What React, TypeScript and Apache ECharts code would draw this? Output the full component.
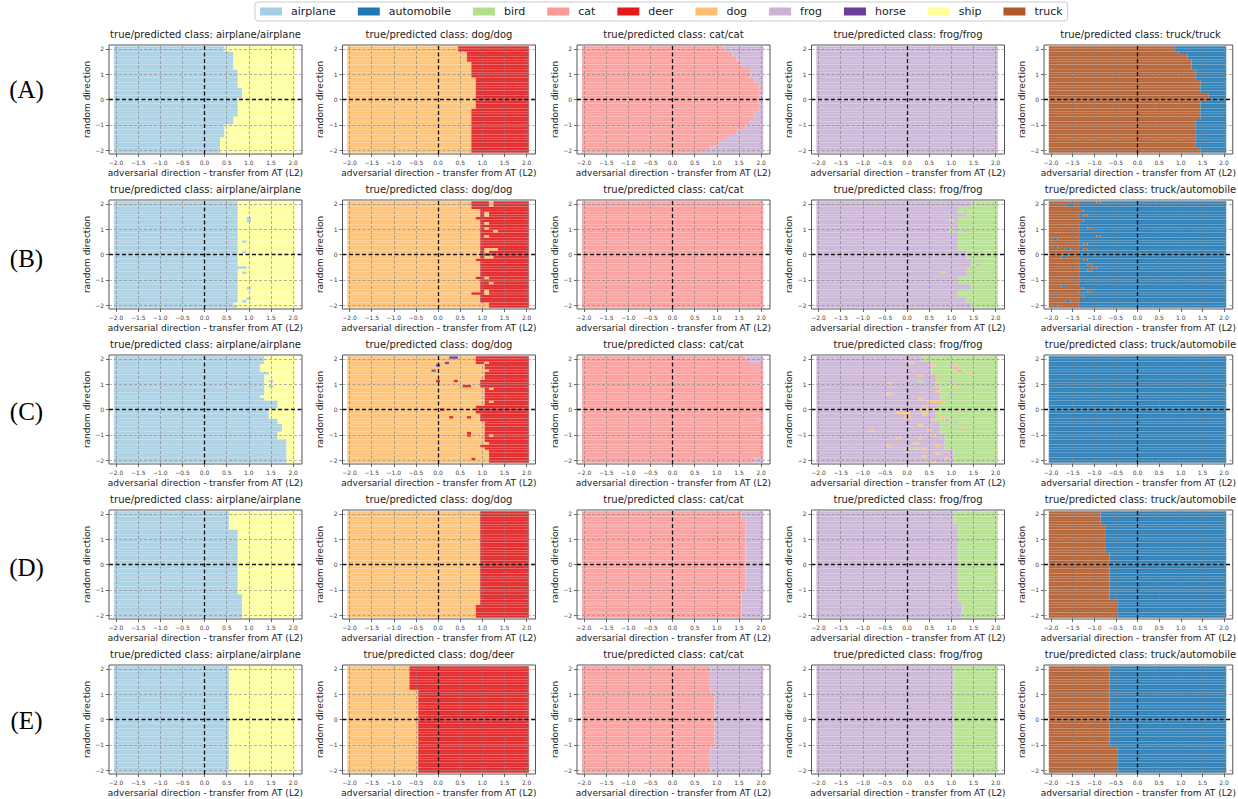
import React, { useEffect, useRef } from "react";
import * as echarts from "echarts";

const CLASSES = ["airplane", "automobile", "bird", "cat", "deer", "dog", "frog", "horse", "ship", "truck"];
const CLASS_COLORS = ["#a6cee3", "#1f78b4", "#b2df8a", "#fb9a99", "#e31a1c", "#fdbf6f", "#cab2d6", "#6a3d9a", "#ffff99", "#b15928"];
const ROW_LABELS = ["(A)", "(B)", "(C)", "(D)", "(E)"];
const X_TICKS = [-2, -1.5, -1, -0.5, 0, 0.5, 1, 1.5, 2];
const Y_TICKS = [-2, -1, 0, 1, 2];
const X_NAME = "adversarial direction - transfer from AT (L2)";
const Y_NAME = "random direction";

// sampling grid of the decision maps
const X_RANGE = [-2.05, 2.05];
const Y_RANGE = [-2.1, 2.1];
const N_X = 41;
const N_Y = 41;

// titles (true/predicted) per row
const TITLES_A = ["airplane/airplane", "dog/dog", "cat/cat", "frog/frog", "truck/truck"];
const TITLES_B = ["airplane/airplane", "dog/dog", "cat/cat", "frog/frog", "truck/automobile"];
const TITLES_C = ["airplane/airplane", "dog/dog", "cat/cat", "frog/frog", "truck/automobile"];
const TITLES_D = ["airplane/airplane", "dog/dog", "cat/cat", "frog/frog", "truck/automobile"];
const TITLES_E = ["airplane/airplane", "dog/deer", "cat/cat", "frog/frog", "truck/automobile"];

// [left-region class, right-region class] per panel
const PAIRS_A = [["airplane", "ship"], ["dog", "deer"], ["cat", "frog"], ["frog", "bird"], ["truck", "automobile"]];
const PAIRS_B = [["airplane", "ship"], ["dog", "deer"], ["cat", "frog"], ["frog", "bird"], ["truck", "automobile"]];
const PAIRS_C = [["airplane", "ship"], ["dog", "deer"], ["cat", "frog"], ["frog", "bird"], ["automobile", "automobile"]];
const PAIRS_D = [["airplane", "ship"], ["dog", "deer"], ["cat", "frog"], ["frog", "bird"], ["truck", "automobile"]];
const PAIRS_E = [["airplane", "ship"], ["dog", "deer"], ["cat", "frog"], ["frog", "bird"], ["truck", "automobile"]];

// boundary profiles: [y top, y bottom, x of boundary]
const A1_EDGES = [[2.1, 1.85, 0.47], [1.85, 1.2, 0.62], [1.2, 0.5, 0.75], [0.5, 0.1, 0.87], [0.1, -0.7, 0.75], [-0.7, -1.0, 0.62], [-1.0, -1.5, 0.47], [-1.5, -2.1, 0.34]];
const A2_EDGES = [[2.1, 1.85, 0.47], [1.85, 1.45, 0.62], [1.45, 0.92, 0.75], [0.92, -0.4, 0.88], [-0.4, -2.1, 0.75]];
const A3_EDGES = [[2.1, 1.9, 1.15], [1.9, 1.7, 1.3], [1.7, 1.5, 1.45], [1.5, 1.3, 1.58], [1.3, 1.1, 1.7], [1.1, 0.9, 1.78], [0.9, 0.7, 1.88], [0.7, 0.5, 1.95], [0.5, 0.4, 2.08], [0.4, -0.5, 1.98], [-0.5, -0.8, 1.88], [-0.8, -1.0, 1.78], [-1.0, -1.2, 1.65], [-1.2, -1.4, 1.45], [-1.4, -1.6, 1.25], [-1.6, -1.8, 1.05], [-1.8, -2.0, 0.85], [-2.0, -2.1, 0.65]];
const A4_EDGES: number[][] = [];
const A5_EDGES = [[2.1, 1.93, 0.85], [1.93, 1.8, 0.98], [1.8, 1.56, 1.12], [1.56, 1.16, 1.25], [1.16, 0.79, 1.38], [0.79, 0.21, 1.48], [0.21, -0.09, 1.62], [-0.09, -0.75, 1.48], [-0.75, -1.88, 1.38], [-1.88, -2.1, 1.48]];

const B1_EDGES = [[2.1, -0.45, 0.75], [-0.45, -0.6, 0.95], [-0.6, -2.1, 0.75]];
const B2_EDGES = [[2.1, 1.75, 0.78], [1.75, -1.85, 0.98], [-1.85, -2.1, 1.12]];
const B3_EDGES: number[][] = [];
const B4_EDGES = [[2.1, 1.9, 1.45], [1.9, 1.6, 1.15], [1.6, 1.5, 1.32], [1.5, 0.2, 1.15], [0.2, -0.15, 1.32], [-0.15, -0.5, 1.42], [-0.5, -0.9, 1.32], [-0.9, -1.2, 1.15], [-1.2, -1.35, 1.45], [-1.35, -1.7, 1.15], [-1.7, -1.9, 1.32], [-1.9, -2.1, 1.48]];
const B5_EDGES = [[2.1, -2.1, -1.38]];

const C1_EDGES = [[2.1, 1.8, 1.38], [1.8, 1.45, 1.28], [1.45, 1.35, 1.48], [1.35, 0.4, 1.38], [0.4, 0.0, 1.62], [0.0, -0.35, 1.42], [-0.35, -0.55, 1.62], [-0.55, -0.9, 1.75], [-0.9, -1.2, 1.62], [-1.2, -2.1, 1.85]];
const C2_EDGES = [[2.1, 1.8, 0.85], [1.8, 1.2, 1.02], [1.2, 0.9, 0.95], [0.9, 0.2, 1.05], [0.2, -0.2, 0.85], [-0.2, -0.6, 0.92], [-0.6, -1.0, 1.02], [-1.0, -1.6, 1.05], [-1.6, -2.1, 1.12]];
const C3_EDGES = [[2.1, 1.95, 1.65], [1.95, 1.8, 1.78]];
const C4_EDGES = [[2.1, 1.9, 0.35], [1.9, 1.4, 0.5], [1.4, 0.9, 0.62], [0.9, 0.2, 0.72], [0.2, -0.5, 0.62], [-0.5, -1.0, 0.75], [-1.0, -1.6, 0.85], [-1.6, -2.1, 1.02]];
const C5_EDGES: number[][] = [];

const D1_EDGES = [[2.1, 1.35, 0.58], [1.35, -1.15, 0.72], [-1.15, -2.1, 0.85]];
const D2_EDGES = [[2.1, -1.6, 0.98], [-1.6, -2.1, 0.85]];
const D3_EDGES = [[2.1, 1.75, 1.52], [1.75, -1.05, 1.65], [-1.05, -2.1, 1.52]];
const D4_EDGES = [[2.1, 1.6, 1.02], [1.6, -1.45, 1.15], [-1.45, -2.1, 1.28]];
const D5_EDGES = [[2.1, 1.6, -0.85], [1.6, 0.45, -0.72], [0.45, -1.35, -0.62], [-1.35, -2.1, -0.48]];

const E1_EDGES = [[2.1, -2.1, 0.58]];
const E2_EDGES = [[2.1, 1.2, -0.62], [1.2, -2.1, -0.48]];
const E3_EDGES = [[2.1, 1.1, 0.85], [1.1, -1.1, 0.98], [-1.1, -2.1, 0.85]];
const E4_EDGES = [[2.1, -2.1, 1.02]];
const E5_EDGES = [[2.1, -1.1, -0.62], [-1.1, -2.1, -0.48]];

// isolated cells: [x, y, class]
const NO_SPOTS: any[] = [];
const B1_SPOTS = [[0.95, 1.45, "airplane"], [0.95, 1.35, "airplane"], [0.85, 0.55, "airplane"], [0.85, 0.1, "airplane"], [0.9, -0.75, "airplane"], [0.95, -1.35, "airplane"], [0.95, -1.75, "airplane"], [0.85, -1.85, "airplane"], [0.7, -1.95, "ship"]];
const B2_SPOTS = [[1.2, 2.05, "dog"], [1.2, 1.95, "dog"], [1.1, 1.65, "dog"], [1.05, 1.55, "dog"], [1.05, 1.25, "dog"], [1.1, 1.0, "dog"], [1.25, 0.95, "dog"], [1.05, 0.75, "dog"], [1.1, 0.25, "dog"], [1.2, 0.2, "dog"], [1.3, 0.2, "dog"], [1.05, 0.15, "dog"], [1.1, -0.1, "dog"], [1.2, -0.15, "dog"], [1.05, -0.95, "dog"], [1.15, -1.1, "dog"], [1.05, -1.45, "dog"], [1.05, -1.55, "dog"], [0.85, 1.4, "deer"], [0.85, -0.2, "deer"], [0.9, -0.9, "deer"], [0.9, -1.55, "deer"], [0.8, -1.55, "deer"]];
const B4_SPOTS = [[0.95, 1.3, "bird"], [0.95, 1.05, "bird"], [0.95, 0.95, "bird"], [0.8, -0.7, "bird"], [1.3, 1.75, "frog"], [1.3, 0.9, "frog"], [1.55, -0.4, "frog"], [1.3, -0.45, "frog"]];
const B5_SPOTS = [[-1.85, 0.6, "automobile"], [-1.85, 0.3, "automobile"], [-1.6, 0.25, "automobile"], [-1.7, -0.15, "automobile"], [-1.55, 0.0, "automobile"], [-1.7, -1.2, "automobile"], [-1.9, -1.65, "automobile"], [-1.9, -2.05, "automobile"], [-1.6, 1.95, "automobile"], [-1.55, -1.8, "automobile"], [-1.5, 1.9, "automobile"], [-1.25, 1.7, "truck"], [-1.2, 1.55, "truck"], [-1.3, 1.35, "truck"], [-1.1, 1.0, "truck"], [-0.95, 0.7, "truck"], [-1.2, 0.4, "truck"], [-1.2, 0.2, "truck"], [-1.2, -0.2, "truck"], [-1.1, -0.45, "truck"], [-1.0, -0.55, "truck"], [-1.05, -0.6, "truck"], [-1.3, -1.35, "truck"], [-1.1, -1.4, "truck"], [-1.25, -1.65, "truck"], [-0.9, 2.0, "truck"]];
const C1_SPOTS = [[1.35, 0.8, "ship"], [1.3, 0.55, "ship"], [1.35, 0.45, "ship"], [1.45, 1.15, "airplane"], [1.45, 0.95, "airplane"]];
const C2_SPOTS = [[0.3, 2.05, "horse"], [0.4, 2.05, "horse"], [0.15, 1.85, "horse"], [0.0, 1.75, "horse"], [-0.15, 1.5, "horse"], [0.0, 1.15, "deer"], [0.4, 1.1, "deer"], [0.55, 0.9, "deer"], [0.65, 0.9, "deer"], [0.1, 0.05, "deer"], [0.25, -0.3, "deer"], [0.65, -0.3, "deer"], [0.65, -0.9, "deer"], [0.65, -1.0, "deer"], [0.95, -1.4, "deer"], [0.8, -1.95, "deer"], [1.05, 1.85, "dog"], [1.1, 1.5, "dog"], [1.15, 0.8, "dog"], [1.2, 0.3, "dog"], [1.0, -0.55, "dog"], [1.15, -1.05, "dog"], [1.1, -1.3, "dog"]];
const C3_SPOTS = [[2.0, 1.6, "frog"], [2.0, 1.0, "frog"], [1.95, -0.4, "frog"], [1.85, -1.9, "frog"], [1.95, -1.9, "frog"], [2.0, -1.9, "frog"], [1.9, -2.0, "frog"], [2.0, -2.0, "frog"]];
const C4_SPOTS = [[0.1, 1.85, "dog"], [0.55, 1.7, "dog"], [1.05, 1.7, "dog"], [1.05, 1.55, "dog"], [1.4, 1.45, "dog"], [0.25, 1.3, "dog"], [0.65, 1.3, "dog"], [-0.4, 1.05, "dog"], [0.65, 1.05, "dog"], [1.05, 0.9, "dog"], [-0.4, 0.65, "dog"], [0.65, 0.7, "dog"], [0.25, 0.45, "dog"], [0.45, 0.3, "dog"], [0.55, 0.35, "dog"], [0.8, 0.3, "dog"], [0.7, 0.35, "dog"], [-0.25, -0.1, "dog"], [-0.15, -0.1, "dog"], [0.0, -0.1, "dog"], [0.0, -0.2, "dog"], [0.0, -0.35, "dog"], [0.25, -0.05, "dog"], [0.4, -0.25, "dog"], [0.55, -0.45, "dog"], [0.7, -0.15, "dog"], [0.8, -0.35, "dog"], [1.2, 0.05, "dog"], [-0.8, -0.85, "dog"], [-0.25, -1.1, "dog"], [-0.4, -1.45, "dog"], [0.15, -1.35, "dog"], [0.25, -1.1, "dog"], [0.4, -1.55, "dog"], [0.65, -1.45, "dog"], [1.3, -0.75, "dog"], [0.7, -1.75, "dog"], [0.85, -1.95, "dog"], [0.55, -2.0, "dog"], [0.4, -1.8, "dog"], [0.3, -0.6, "dog"], [0.5, -0.8, "dog"], [0.6, -1.0, "dog"], [0.35, 0.1, "dog"], [0.5, 0.0, "dog"], [1.2, 1.55, "cat"], [1.0, 1.75, "frog"], [1.05, 1.6, "frog"], [0.95, 1.15, "frog"], [1.0, 0.6, "frog"], [0.9, -0.4, "frog"], [1.1, -0.5, "frog"], [0.25, 1.15, "bird"], [0.4, -0.1, "bird"], [0.0, -1.5, "bird"], [0.15, -1.55, "bird"]];

const EDGES = [
  [A1_EDGES, A2_EDGES, A3_EDGES, A4_EDGES, A5_EDGES],
  [B1_EDGES, B2_EDGES, B3_EDGES, B4_EDGES, B5_EDGES],
  [C1_EDGES, C2_EDGES, C3_EDGES, C4_EDGES, C5_EDGES],
  [D1_EDGES, D2_EDGES, D3_EDGES, D4_EDGES, D5_EDGES],
  [E1_EDGES, E2_EDGES, E3_EDGES, E4_EDGES, E5_EDGES],
];
const SPOTS = [
  [NO_SPOTS, NO_SPOTS, NO_SPOTS, NO_SPOTS, NO_SPOTS],
  [B1_SPOTS, B2_SPOTS, NO_SPOTS, B4_SPOTS, B5_SPOTS],
  [C1_SPOTS, C2_SPOTS, C3_SPOTS, C4_SPOTS, NO_SPOTS],
  [NO_SPOTS, NO_SPOTS, NO_SPOTS, NO_SPOTS, NO_SPOTS],
  [NO_SPOTS, NO_SPOTS, NO_SPOTS, NO_SPOTS, NO_SPOTS],
];
const TITLES = [TITLES_A, TITLES_B, TITLES_C, TITLES_D, TITLES_E];
const PAIRS = [PAIRS_A, PAIRS_B, PAIRS_C, PAIRS_D, PAIRS_E];

// layout
const COL_LEFT = [109, 342.5, 577, 811.5, 1044];
const PANEL_W = 193;
const ROW_TOP = [45, 200, 355, 510, 665];
const PANEL_H = 109;
const ROW_LABEL_Y = [89, 258, 411, 567, 720];

function buildSegments(pair: string[], edges: number[][], spots: any[]) {
  const base = CLASSES.indexOf(pair[0]);
  const alt = CLASSES.indexOf(pair[1]);
  const dx = (X_RANGE[1] - X_RANGE[0]) / N_X;
  const dy = (Y_RANGE[1] - Y_RANGE[0]) / N_Y;
  const cells: number[][] = [];
  for (let j = 0; j < N_Y; j++) {
    const yc = Y_RANGE[0] + (j + 0.5) * dy;
    const e = edges.find((r) => yc <= r[0] && yc > r[1]);
    const edge = e ? e[2] : Infinity;
    const row: number[] = [];
    for (let i = 0; i < N_X; i++) {
      const xc = X_RANGE[0] + (i + 0.5) * dx;
      row.push(xc > edge + 1e-6 ? alt : base);
    }
    cells.push(row);
  }
  spots.forEach((s) => {
    const i = Math.min(N_X - 1, Math.max(0, Math.round((s[0] - X_RANGE[0]) / dx - 0.5)));
    const j = Math.min(N_Y - 1, Math.max(0, Math.round((s[1] - Y_RANGE[0]) / dy - 0.5)));
    cells[j][i] = CLASSES.indexOf(s[2]);
  });
  const segs: number[][] = [];
  for (let j = 0; j < N_Y; j++) {
    let start = 0;
    for (let i = 1; i <= N_X; i++) {
      if (i === N_X || cells[j][i] !== cells[j][start]) {
        segs.push([
          X_RANGE[0] + start * dx,
          X_RANGE[0] + i * dx,
          Y_RANGE[0] + j * dy,
          Y_RANGE[0] + (j + 1) * dy,
          cells[j][start],
        ]);
        start = i;
      }
    }
  }
  return segs;
}

const fmtX = (v: number) => (v < 0 ? "\u2212" : "") + Math.abs(v).toFixed(1);
const fmtY = (v: number) => (v < 0 ? "\u2212" : "") + Math.abs(v).toFixed(0);

export default function App() {
  const ref = useRef<HTMLDivElement>(null);
  useEffect(() => {
    if (!ref.current) return;
    const chart = echarts.init(ref.current, undefined, { renderer: "svg" });
    const FONT = "DejaVu Sans";
    const grids: any[] = [];
    const xAxes: any[] = [];
    const yAxes: any[] = [];
    const series: any[] = [];
    const titles: any[] = [];
    const gridLine = { color: "#808080", width: 0.8, type: [3, 2], opacity: 0.75 };
    const zeroLine = { color: "#111", width: 1.3, type: [4, 2.5], opacity: 1 };
    for (let r = 0; r < 5; r++) {
      for (let c = 0; c < 5; c++) {
        const gi = r * 5 + c;
        grids.push({
          left: COL_LEFT[c], top: ROW_TOP[r], width: PANEL_W, height: PANEL_H,
          show: true, borderColor: "#555", borderWidth: 1, backgroundColor: "transparent",
        });
        xAxes.push({
          gridIndex: gi, type: "value", min: -2.16, max: 2.2,
          axisLine: { show: false, onZero: false },
          splitLine: { show: false },
          axisTick: { show: true, customValues: X_TICKS, length: 3, lineStyle: { color: "#444", width: 0.8 } },
          axisLabel: { customValues: X_TICKS, formatter: fmtX, fontSize: 6, color: "#444", margin: 5, fontFamily: FONT },
          name: X_NAME, nameLocation: "middle", nameGap: 14,
          nameTextStyle: { fontSize: 9, color: "#222", fontFamily: FONT },
        });
        yAxes.push({
          gridIndex: gi, type: "value", min: -2.15, max: 2.15,
          axisLine: { show: false, onZero: false },
          splitLine: { show: false },
          axisTick: { show: true, customValues: Y_TICKS, length: 3, lineStyle: { color: "#444", width: 0.8 } },
          axisLabel: { customValues: Y_TICKS, formatter: fmtY, fontSize: 6, color: "#444", margin: 5, fontFamily: FONT },
          name: Y_NAME, nameLocation: "middle", nameGap: 18, nameRotate: 90,
          nameTextStyle: { fontSize: 9, color: "#222", fontFamily: FONT },
        });
        const segs = buildSegments(PAIRS[r][c], EDGES[r][c] as number[][], SPOTS[r][c]);
        series.push({
          type: "custom", xAxisIndex: gi, yAxisIndex: gi, silent: true,
          data: segs, encode: { x: [0, 1], y: [2, 3] },
          renderItem: (params: any, api: any) => {
            const p0 = api.coord([api.value(0), api.value(3)]);
            const p1 = api.coord([api.value(1), api.value(2)]);
            return {
              type: "rect",
              shape: { x: p0[0], y: p0[1], width: p1[0] - p0[0], height: p1[1] - p0[1] },
              style: { fill: CLASS_COLORS[api.value(4)], opacity: 0.92, stroke: "rgba(255,255,255,0.16)", lineWidth: 0.5 },
            };
          },
          markLine: {
            silent: true, symbol: ["none", "none"], animation: false, label: { show: false },
            data: [
              ...X_TICKS.filter((v) => v !== 0).map((v) => ({ xAxis: v, lineStyle: gridLine })),
              ...Y_TICKS.filter((v) => v !== 0).map((v) => ({ yAxis: v, lineStyle: gridLine })),
              { xAxis: 0, lineStyle: zeroLine },
              { yAxis: 0, lineStyle: zeroLine },
            ],
          },
        });
        titles.push({
          text: "true/predicted class: " + TITLES[r][c],
          left: COL_LEFT[c] + PANEL_W / 2, top: ROW_TOP[r] - 16, textAlign: "center", padding: 0,
          textStyle: { fontSize: 10, fontWeight: "normal", color: "#222", fontFamily: FONT },
        });
      }
    }
    CLASSES.forEach((name, k) => {
      series.push({
        type: "custom", name, xAxisIndex: 0, yAxisIndex: 0, data: [],
        itemStyle: { color: CLASS_COLORS[k] }, renderItem: () => null,
      });
    });
    chart.setOption({
      animation: false,
      textStyle: { fontFamily: FONT },
      title: titles,
      legend: {
        data: CLASSES, left: 255, top: 2, icon: "rect", itemWidth: 22, itemHeight: 8, itemGap: 22,
        selectedMode: false, padding: [4, 5, 4, 5], borderColor: "#ccc", borderWidth: 1, borderRadius: 3,
        backgroundColor: "#fff",
        textStyle: { fontSize: 11, color: "#222", fontFamily: FONT, padding: [0, 0, 0, 4] },
      },
      grid: grids, xAxis: xAxes, yAxis: yAxes, series,
      graphic: ROW_LABELS.map((t, r) => ({
        type: "text", x: 26.5, y: ROW_LABEL_Y[r],
        style: { text: t, fontSize: 25, fontFamily: "Liberation Serif", fill: "#000", align: "center", verticalAlign: "middle" },
      })),
    });
    return () => chart.dispose();
  }, []);
  return <div ref={ref} style={{ position: "absolute", left: 0, top: 0, width: 1238, height: 799 }} />;
}
